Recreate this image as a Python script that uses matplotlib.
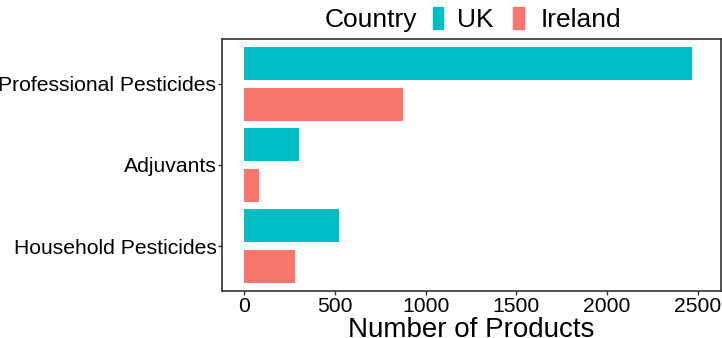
import matplotlib.pyplot as plt
from matplotlib.patches import Rectangle

plt.rcParams['font.family'] = ['Liberation Sans', 'DejaVu Sans']

categories = ["Professional Pesticides", "Adjuvants", "Household Pesticides"]
uk = [2466, 300, 522]
ireland = [877, 83, 278]
ticks = [0, 500, 1000, 1500, 2000, 2500]

uk_col = "#00BFC4"
ie_col = "#F8766D"
W, H = 722, 338

fig = plt.figure(figsize=(W / 100, H / 100), dpi=100)
ax = fig.add_axes([221.7 / W, 1 - 290.7 / H, (720.7 - 221.7) / W, (290.7 - 39.3) / H])

pos = list(range(len(categories)))
ax.barh([p - 0.25 for p in pos], uk, height=0.405, color=uk_col)
ax.barh([p + 0.25 for p in pos], ireland, height=0.405, color=ie_col)

ax.set_ylim(len(categories) - 0.45, -0.55)
ax.set_xlim(-124.6, 2627)
ax.set_yticks(pos)
ax.set_yticklabels(categories)
ax.set_xticks(ticks)
ax.set_xticklabels([str(t) for t in ticks])
ax.tick_params(axis='both', labelsize=15.2, colors='#333333', labelcolor='black',
               length=2.75, width=1.0)
ax.tick_params(axis='y', pad=1)
ax.tick_params(axis='x', pad=1.5)
for s in ax.spines.values():
    s.set_color('#333333')
    s.set_linewidth(1.2)
ax.set_xlabel("Number of Products", fontsize=20, labelpad=1)

# legend on top
base = 1 - 26.7 / H
fig.text(325 / W, base, "Country", fontsize=19, va='baseline', ha='left')
fig.patches.append(Rectangle((432.7 / W, 1 - 29 / H), 10 / W, 22 / H,
                             transform=fig.transFigure, color=uk_col))
fig.text(457 / W, base, "UK", fontsize=19, va='baseline', ha='left')
fig.patches.append(Rectangle((513 / W, 1 - 29 / H), 11 / W, 22 / H,
                             transform=fig.transFigure, color=ie_col))
fig.text(540.7 / W, base, "Ireland", fontsize=19, va='baseline', ha='left')

fig.savefig("out.png", dpi=100)
